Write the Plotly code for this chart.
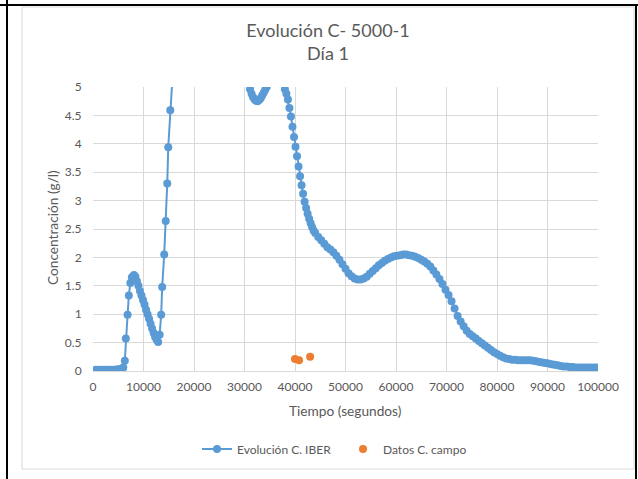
import plotly.graph_objects as go

# Evolución C. IBER (tiempo en s, concentración en g/l)
tiempo_iber = [
    0, 600, 1200, 1800, 2400, 3000, 3600, 4200, 4800, 5400,
    5700, 6000, 6300, 6500, 6850, 7100, 7400, 7700, 8100, 8400,
    8700, 9000, 9300, 9600, 9900, 10200, 10500, 10800, 11100, 11400,
    11700, 12000, 12300, 12600, 12900, 13200, 13500, 13700, 14100, 14400,
    14700, 14900, 15300, 15600, 17000, 20000, 24000, 28000, 30500, 30800,
    31100, 31400, 31700, 32000, 32300, 32600, 32900, 33200, 33500, 33800,
    34100, 34400, 34700, 35500, 36500, 37500,
    38000, 38300, 38600, 38900, 39200, 39500, 39800, 40100, 40400, 40700,
    41000, 41300, 41600, 41900, 42200, 42500, 42800, 43100, 43400, 43700,
    44000, 44600, 45200, 45800, 46400, 47000, 47600, 48200, 48800, 49400,
    50000, 50600, 51200, 51800, 52400, 53000, 53600, 54200, 54800, 55400,
    56000, 56600, 57200, 57800, 58400, 59000, 59600, 60200, 60800, 61400,
    62000, 62600, 63200, 63800, 64400, 65000, 65600, 66200, 66800, 67400,
    68000, 68600, 69200, 69800, 70400, 71000, 71600, 72200, 72800, 73400,
    74000, 74600, 75200, 75800, 76400, 77000, 77600, 78200, 78800, 79400,
    80000, 80600, 81200, 81800, 82400, 83000, 83600, 84200, 84800, 85400,
    86000, 86600, 87200, 87800, 88400, 89000, 89600, 90200, 90800, 91400,
    92000, 92600, 93200, 93800, 94400, 95000, 95600, 96200, 96800, 97400,
    98000, 98600, 99200, 99800,
]
conc_iber = [
    0.01, 0.02, 0.02, 0.02, 0.02, 0.02, 0.02, 0.02, 0.03, 0.03,
    0.04, 0.06, 0.18, 0.57, 0.99, 1.33, 1.55, 1.65, 1.69, 1.66,
    1.58, 1.50, 1.41, 1.33, 1.25, 1.17, 1.08, 1.00, 0.92, 0.83,
    0.75, 0.67, 0.60, 0.55, 0.51, 0.64, 0.99, 1.48, 2.05, 2.64,
    3.30, 3.94, 4.59, 5.20, 7.00, 9.50, 9.00, 6.80, 5.30, 5.10,
    4.96, 4.88, 4.82, 4.78, 4.76, 4.75, 4.77, 4.80, 4.85, 4.90,
    4.95, 5.00, 5.08, 5.30, 5.40, 5.15,
    4.96, 4.88, 4.78, 4.63, 4.48, 4.30, 4.12, 3.95, 3.78, 3.60,
    3.43, 3.27, 3.12, 2.98, 2.87, 2.77, 2.68, 2.60, 2.53, 2.47,
    2.43, 2.36, 2.30, 2.24, 2.18, 2.14, 2.09, 2.03, 1.96, 1.88,
    1.80, 1.72, 1.67, 1.63, 1.61, 1.61, 1.63, 1.66, 1.71, 1.76,
    1.81, 1.86, 1.90, 1.94, 1.97, 2.00, 2.02, 2.03, 2.04, 2.05,
    2.05, 2.04, 2.03, 2.01, 1.99, 1.96, 1.93, 1.89, 1.84, 1.77,
    1.70, 1.62, 1.53, 1.43, 1.34, 1.23, 1.10, 0.97, 0.87, 0.79,
    0.71, 0.65, 0.61, 0.57, 0.53, 0.49, 0.45, 0.41, 0.37, 0.33,
    0.30, 0.27, 0.24, 0.22, 0.21, 0.20, 0.20, 0.19, 0.19, 0.19,
    0.19, 0.19, 0.18, 0.17, 0.16, 0.15, 0.14, 0.13, 0.12, 0.11,
    0.10, 0.09, 0.08, 0.08, 0.07, 0.07, 0.06, 0.06, 0.06, 0.06,
    0.06, 0.06, 0.06, 0.06,
]

# Datos C. campo
tiempo_campo = [40000, 40800, 43000]
conc_campo = [0.21, 0.19, 0.25]

x_ticks = [0, 10000, 20000, 30000, 40000, 50000, 60000, 70000, 80000, 90000, 100000]
y_ticks = [0, 0.5, 1, 1.5, 2, 2.5, 3, 3.5, 4, 4.5, 5]

BLUE = '#5B9BD5'
ORANGE = '#ED7D31'
GRID = '#D9D9D9'
TXT = '#595959'
FONT = 'Lato, Calibri, sans-serif'

# plot area in pixels: left 93, right 598, top 87, bottom 371
L, R, T, B = 93, 598, 87, 371
W, H = 638, 479


def px(x):
    return (x - L) / (R - L)


def py(y):
    return (B - y) / (B - T)


fig = go.Figure()
fig.add_trace(go.Scatter(x=tiempo_iber, y=conc_iber, mode='lines+markers', name='Evolución C. IBER',
                         line=dict(color=BLUE, width=2), marker=dict(color=BLUE, size=8)))
fig.add_trace(go.Scatter(x=tiempo_campo, y=conc_campo, mode='markers', name='Datos C. campo',
                         marker=dict(color=ORANGE, size=8)))

fig.update_layout(
    width=W, height=H,
    margin=dict(l=L, r=W - R, t=T, b=H - B, autoexpand=False),
    paper_bgcolor='white', plot_bgcolor='white',
    font=dict(family=FONT, color=TXT, size=12),
    title=dict(text='Evolución C- 5000-1<br>Día 1', x=328 / W, xanchor='center',
               y=1 - 37 / H, yanchor='top', font=dict(size=18, color=TXT)),
    showlegend=True,
    legend=dict(orientation='h', x=px(343), xanchor='center', y=py(449), yanchor='middle',
                entrywidth=101, font=dict(size=12, color=TXT), bgcolor='rgba(0,0,0,0)'),
    shapes=[
        # light chart border
        dict(type='rect', xref='paper', yref='paper', x0=px(22), x1=px(634), y0=py(469), y1=py(7),
             line=dict(color=GRID, width=1)),
        # black frame lines around the cell
        dict(type='line', xref='paper', yref='paper', x0=px(0), x1=px(638), y0=py(5), y1=py(5),
             line=dict(color='black', width=2)),
        dict(type='line', xref='paper', yref='paper', x0=px(7), x1=px(7), y0=py(479), y1=py(0),
             line=dict(color='black', width=2)),
        dict(type='line', xref='paper', yref='paper', x0=px(636), x1=px(636), y0=py(479), y1=py(5),
             line=dict(color='black', width=2)),
    ],
    annotations=[
        dict(text='Concentración (g/l)', xref='paper', yref='paper', x=px(52), y=py(228),
             xanchor='center', yanchor='middle',
             textangle=-90, showarrow=False, font=dict(size=13.7, color=TXT)),
        dict(text='Tiempo (segundos)', xref='paper', yref='paper', x=px(345), y=py(410),
             xanchor='center', yanchor='middle',
             showarrow=False, font=dict(size=13.7, color=TXT)),
    ],
)
fig.update_xaxes(range=[0, 100000], tickvals=x_ticks, ticktext=[str(v) for v in x_ticks],
                 showgrid=True, gridcolor=GRID, zeroline=False, showline=True, linecolor=GRID,
                 ticks='outside', ticklen=5, tickcolor='rgba(0,0,0,0)', tickfont=dict(size=12))
fig.update_yaxes(range=[0, 5], tickvals=y_ticks, ticktext=[str(v) for v in y_ticks],
                 showgrid=True, gridcolor=GRID, zeroline=False, showline=False,
                 ticks='outside', ticklen=8, tickcolor='rgba(0,0,0,0)', tickfont=dict(size=12))

# the page body has a default 8px margin; drop it so the figure sits at the window corner
fig.write_html("out.html", config={'displayModeBar': False},
               post_script="document.body.style.margin='0';")
